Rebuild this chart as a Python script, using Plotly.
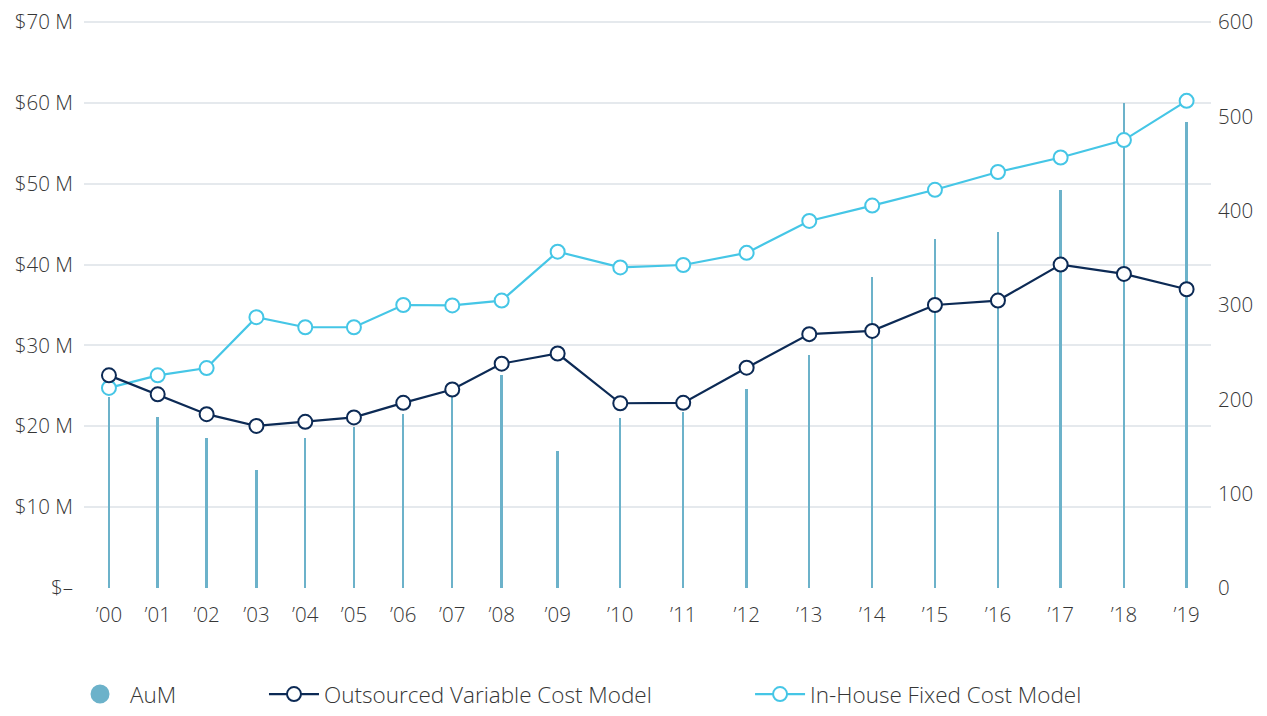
import plotly.graph_objects as go

# ---- data ----
year_labels = ["’00", "’01", "’02", "’03", "’04", "’05", "’06", "’07", "’08", "’09",
               "’10", "’11", "’12", "’13", "’14", "’15", "’16", "’17", "’18", "’19"]
# horizontal position of each year on the time axis (years are not evenly spaced in the source)
year_pos = [0.0, 0.859, 1.722, 2.60, 3.461, 4.319, 5.189, 6.053, 6.924, 7.911,
            9.015, 10.125, 11.243, 12.347, 13.457, 14.563, 15.674, 16.779, 17.895, 19.0]
aum = [203, 181, 159, 125, 159, 171, 184, 203, 226, 145,
       180, 187, 211, 247, 330, 370, 377, 422, 514, 494]
outsourced = [26.3, 23.95, 21.5, 20.05, 20.55, 21.1, 22.9, 24.55, 27.75, 29.0,
              22.85, 22.9, 27.25, 31.4, 31.8, 35.0, 35.55, 40.0, 38.85, 36.95]
in_house = [24.75, 26.3, 27.2, 33.5, 32.25, 32.25, 35.0, 34.95, 35.55, 41.6,
            39.65, 39.95, 41.45, 45.4, 47.3, 49.25, 51.45, 53.25, 55.4, 60.25]
left_ticks = [0, 10, 20, 30, 40, 50, 60, 70]
left_tick_text = ["$–", "$10 M", "$20 M", "$30 M", "$40 M", "$50 M", "$60 M", "$70 M"]
right_ticks = [0, 100, 200, 300, 400, 500, 600]

FONT = "Open Sans"
TXT = "#363636"
BAR_C = "#6cb2ca"
DARK = "#0c2a55"
LIGHT = "#45c6e6"
FS = 20.5
W = 300

fig = go.Figure()

# AuM bars on the primary (right-side) axis so they sit beneath the lines
fig.add_trace(go.Bar(x=year_pos, y=aum, name="AuM", width=0.042,
                     marker=dict(color=BAR_C, line=dict(width=0)),
                     yaxis="y", showlegend=False))
# legend proxy for AuM (round swatch)
fig.add_trace(go.Scatter(x=[None], y=[None], mode="markers", name="AuM",
                         marker=dict(color=BAR_C, size=16, line=dict(color=BAR_C, width=3)),
                         yaxis="y", legend="legend"))

fig.add_trace(go.Scatter(x=year_pos, y=in_house, name="In-House Fixed Cost Model",
                         mode="lines+markers", yaxis="y2", legend="legend3",
                         line=dict(color=LIGHT, width=2.2),
                         marker=dict(size=14, color="white", line=dict(color=LIGHT, width=2))))
fig.add_trace(go.Scatter(x=year_pos, y=outsourced, name="Outsourced Variable Cost Model",
                         mode="lines+markers", yaxis="y2", legend="legend2",
                         line=dict(color=DARK, width=2.2),
                         marker=dict(size=14, color="white", line=dict(color=DARK, width=2))))

legend_common = dict(orientation="h", yanchor="bottom", y=-0.2245, xanchor="left",
                     bgcolor="rgba(0,0,0,0)", borderwidth=0, itemwidth=50,
                     font=dict(family=FONT, size=22.5, color=TXT, weight=W))

tf = dict(family=FONT, size=FS, color=TXT, weight=W)

fig.update_layout(
    width=1267, height=716,
    margin=dict(l=84, r=56, t=18.3, b=128.3, autoexpand=False),
    paper_bgcolor="white", plot_bgcolor="white",
    font=dict(family=FONT, size=FS, color=TXT),
    bargap=0,
    xaxis=dict(range=[-0.44, 19.43], tickvals=year_pos, ticktext=year_labels,
               showgrid=False, zeroline=False, showline=False, ticks="",
               ticklabelstandoff=12, tickfont=tf),
    yaxis=dict(side="right", range=[0, 604.29], tickvals=right_ticks,
               showgrid=False, zeroline=False, showline=False, ticks="",
               ticklabelstandoff=6, tickfont=tf),
    yaxis2=dict(side="left", overlaying="y", range=[0, 70.5], tickvals=left_ticks,
                ticktext=left_tick_text, showgrid=True, gridcolor="#e5e9ed", gridwidth=2,
                zeroline=False, showline=False, ticks="",
                ticklabelstandoff=10, tickfont=tf),
    legend=dict(legend_common, x=-0.0124),
    legend2=dict(legend_common, x=0.1597),
    legend3=dict(legend_common, x=0.591),
)

fig.write_html("out.html", config={"displayModeBar": False},
               post_script="document.body.style.margin='0';document.body.style.overflow='hidden';")
